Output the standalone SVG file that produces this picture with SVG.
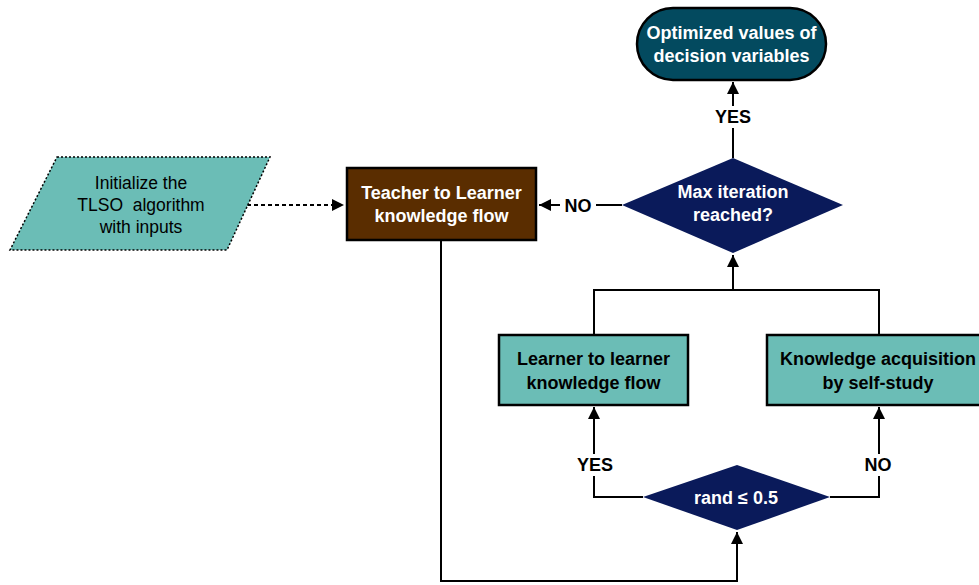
<svg xmlns="http://www.w3.org/2000/svg" width="979" height="585" viewBox="0 0 979 585">
<defs>
<marker id="ah" viewBox="0 0 10 10" refX="10" refY="5" markerWidth="12" markerHeight="12" markerUnits="userSpaceOnUse" orient="auto"><path d="M0,0 L10,5 L0,10 z" fill="#000"/></marker>
<style>
.bx{stroke:#000;stroke-width:2.5}
.t{font-family:"Liberation Sans",Arial,sans-serif;font-size:18px;text-anchor:middle}
.r{font-size:17.5px}
.b{font-weight:bold}
.w{fill:#fff}
.k{fill:#000}
.ln{fill:none;stroke:#000;stroke-width:2}
.lab{font-family:"Liberation Sans",Arial,sans-serif;font-size:18px;font-weight:bold;text-anchor:middle;fill:#000}
</style>
</defs>
<rect width="979" height="585" fill="#fff"/>
<g id="connectors">
<path class="ln" d="M733,158 V82" marker-end="url(#ah)"/>
<rect x="710" y="106" width="46" height="22" fill="#fff"/>
<text class="lab" x="733" y="123">YES</text>
<path class="ln" d="M622,205 H539" marker-end="url(#ah)"/>
<rect x="560" y="196" width="36" height="20" fill="#fff"/>
<text class="lab" x="578" y="212">NO</text>
<path class="ln" d="M247,205 H344" stroke-dasharray="4,3" marker-end="url(#ah)"/>
<path class="ln" d="M594,335 V290 H879 V335"/>
<path class="ln" d="M733,290 V255" marker-end="url(#ah)"/>
<path class="ln" d="M643,497 H594 V407" marker-end="url(#ah)"/>
<rect x="572" y="454" width="46" height="22" fill="#fff"/>
<text class="lab" x="595" y="471">YES</text>
<path class="ln" d="M830,497 H879 V407" marker-end="url(#ah)"/>
<rect x="860" y="454" width="38" height="22" fill="#fff"/>
<text class="lab" x="878" y="471">NO</text>
<path class="ln" d="M441,241 V581 H737 V532" marker-end="url(#ah)"/>
</g>
<g id="terminal">
<rect class="bx" x="637" y="8" width="189" height="72" rx="36" ry="36" fill="#034A5F"/>
<text class="t b w" x="731.5" y="39">Optimized values of</text>
<text class="t b w" x="731.5" y="62">decision variables</text>
</g>
<g id="init">
<polygon points="57,157 270,157 227,250 10,250" fill="#6BBDB6" stroke="#000" stroke-width="1.5" stroke-dasharray="2,2"/>
<text class="t r k" x="141" y="189">Initialize the</text>
<text class="t r k" x="141" y="211" xml:space="preserve">TLSO  algorithm</text>
<text class="t r k" x="141" y="233">with inputs</text>
</g>
<g id="teacher">
<rect class="bx" x="347" y="168" width="189" height="72" fill="#5A2D00"/>
<text class="t b w" x="441.5" y="199">Teacher to Learner</text>
<text class="t b w" x="441.5" y="222">knowledge flow</text>
</g>
<g id="maxiter">
<polygon points="733,158 843,205 733,253 622,205" fill="#0A1A5A"/>
<text class="t b w" x="733" y="198">Max iteration</text>
<text class="t b w" x="733" y="221">reached?</text>
</g>
<g id="learner">
<rect class="bx" x="499" y="335" width="189" height="70" fill="#6BBDB6"/>
<text class="t b k" x="593.5" y="365">Learner to learner</text>
<text class="t b k" x="593.5" y="389">knowledge flow</text>
</g>
<g id="selfstudy">
<rect class="bx" x="767" y="335" width="215" height="70" fill="#6BBDB6"/>
<text class="t b k" x="878" y="365">Knowledge acquisition</text>
<text class="t b k" x="878" y="389">by self-study</text>
</g>
<g id="rand">
<polygon points="737,465 830,497 737,530 643,497" fill="#0A1A5A"/>
<text class="t b w" x="736" y="504">rand ≤ 0.5</text>
</g>
</svg>
